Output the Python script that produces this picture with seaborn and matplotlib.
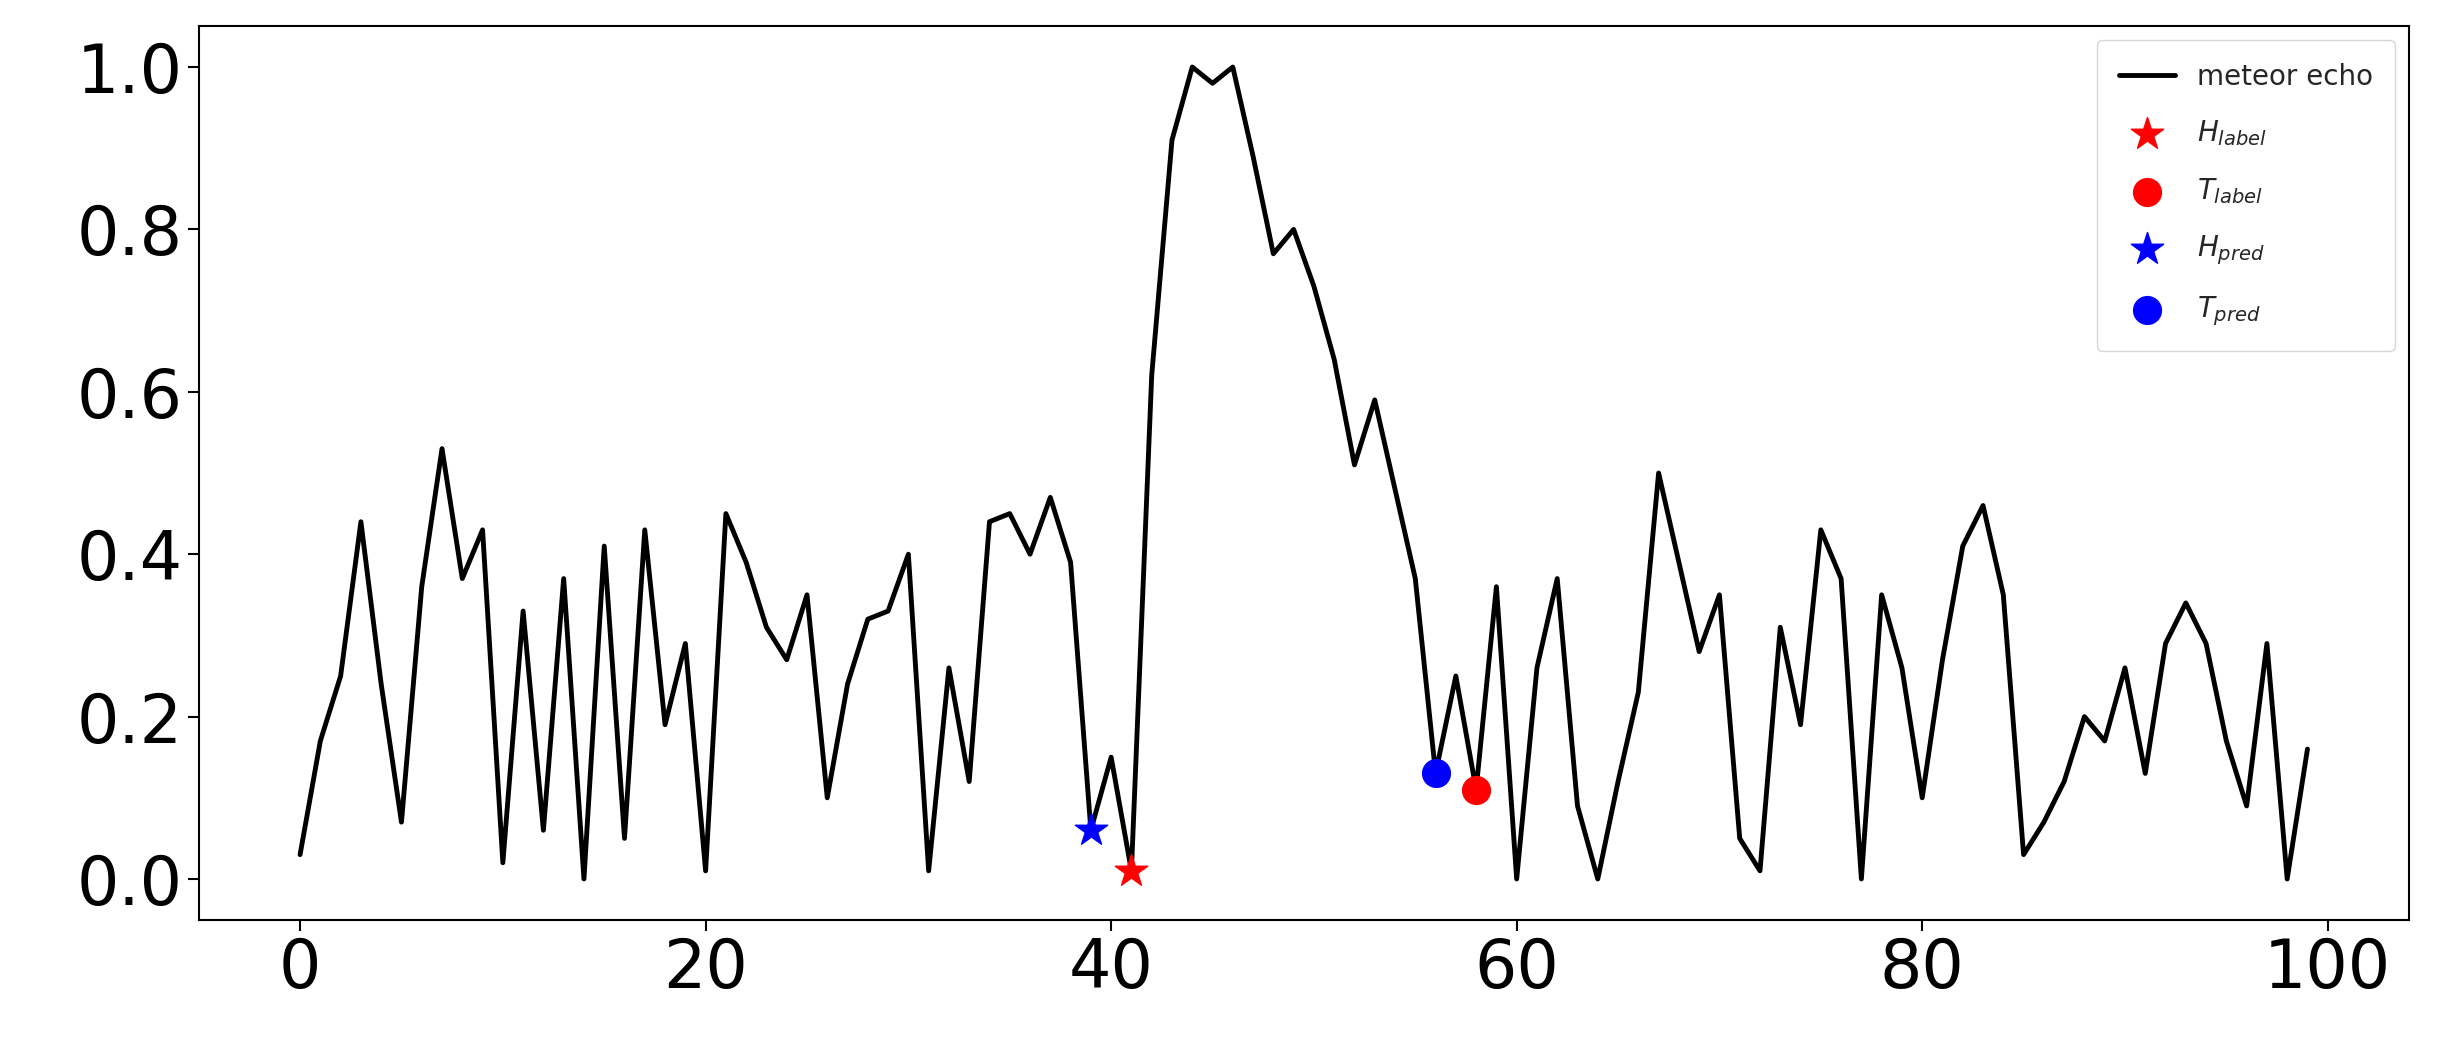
import numpy as np
import pandas as pd
import matplotlib
matplotlib.use("Agg")
import matplotlib.pyplot as plt
import seaborn as sns

echo = [0.03, 0.17, 0.25, 0.44, 0.24, 0.07, 0.36, 0.53, 0.37, 0.43,
        0.02, 0.33, 0.06, 0.37, 0.00, 0.41, 0.05, 0.43, 0.19, 0.29,
        0.01, 0.45, 0.39, 0.31, 0.27, 0.35, 0.10, 0.24, 0.32, 0.33,
        0.40, 0.01, 0.26, 0.12, 0.44, 0.45, 0.40, 0.47, 0.39, 0.06,
        0.15, 0.01, 0.62, 0.91, 1.00, 0.98, 1.00, 0.89, 0.77, 0.80,
        0.73, 0.64, 0.51, 0.59, 0.48, 0.37, 0.13, 0.25, 0.11, 0.36,
        0.00, 0.26, 0.37, 0.09, 0.00, 0.12, 0.23, 0.50, 0.39, 0.28,
        0.35, 0.05, 0.01, 0.31, 0.19, 0.43, 0.37, 0.00, 0.35, 0.26,
        0.10, 0.27, 0.41, 0.46, 0.35, 0.03, 0.07, 0.12, 0.20, 0.17,
        0.26, 0.13, 0.29, 0.34, 0.29, 0.17, 0.09, 0.29, 0.00, 0.16]
h_label = (41, 0.01)
t_label = (58, 0.11)
h_pred = (39, 0.06)
t_pred = (56, 0.13)

df = pd.DataFrame({"t": np.arange(len(echo)), "amp": echo})

sns.set_style("ticks")
fig = plt.figure(figsize=(24.53, 10.57), dpi=100)
ax = fig.add_axes([0.081, 0.13, 0.901, 0.845])

sns.lineplot(data=df, x="t", y="amp", color="black", lw=3.5, ax=ax, label="meteor echo")
ax.scatter(*h_label, marker="*", s=600, color="red", zorder=3, label=r"$H_{label}$")
ax.scatter(*t_label, marker="o", s=400, color="red", zorder=3, label=r"$T_{label}$")
ax.scatter(*h_pred, marker="*", s=600, color="blue", zorder=3, label=r"$H_{pred}$")
ax.scatter(*t_pred, marker="o", s=400, color="blue", zorder=3, label=r"$T_{pred}$")

ax.set_xlim(-5, 104)
ax.set_ylim(-0.05, 1.05)
ax.set_xlabel("")
ax.set_ylabel("")
ax.set_xticks([0, 20, 40, 60, 80, 100])
ax.set_yticks([0.0, 0.2, 0.4, 0.6, 0.8, 1.0])
ax.tick_params(labelsize=48, length=8, width=1.5, colors="black")
for s in ax.spines.values():
    s.set_linewidth(1.5)
    s.set_color("black")
ax.legend(loc="upper right", fontsize=20, labelspacing=1.0, borderpad=0.8)

fig.savefig("out.png", dpi=100)
